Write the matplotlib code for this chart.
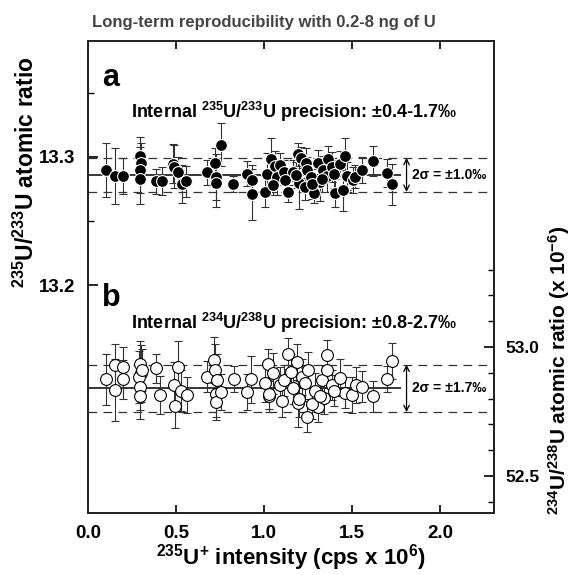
import matplotlib
matplotlib.use("Agg")
import matplotlib.pyplot as plt
from matplotlib.ticker import FixedLocator

plt.rcParams['font.family'] = ['Liberation Sans', 'DejaVu Sans']
plt.rcParams['font.weight'] = 'bold'
plt.rcParams['mathtext.fontset'] = 'custom'
plt.rcParams['mathtext.rm'] = 'Liberation Sans:bold'
plt.rcParams['mathtext.it'] = 'Liberation Sans:bold'
plt.rcParams['mathtext.bf'] = 'Liberation Sans:bold'

# panel a: 235U/233U
a_x = [0.10, 0.153, 0.20, 0.295, 0.30, 0.295, 0.297, 0.385, 0.42, 0.485, 0.49, 0.513, 0.532, 0.557,
       0.678, 0.722, 0.727, 0.73, 0.756, 0.826, 0.905, 0.93, 0.934,
       1.006, 1.015, 1.038, 1.062, 1.072, 1.09, 1.114, 1.138, 1.163, 1.195, 1.201, 1.21, 1.233,
       1.239, 1.246, 1.265, 1.284, 1.309, 1.318, 1.337, 1.356, 1.362, 1.384, 1.403, 1.432, 1.451,
       1.46, 1.47, 1.504, 1.517, 1.555, 1.617, 1.70, 1.729, 1.05, 1.12, 1.18, 1.27, 1.33, 1.40]
a_y = [13.2896, 13.2849, 13.285, 13.3005, 13.2953, 13.2896, 13.2831, 13.281, 13.281, 13.2948, 13.2925,
       13.288, 13.279, 13.281,
       13.288, 13.295, 13.2844, 13.280, 13.3096, 13.279, 13.287, 13.282, 13.271,
       13.273, 13.287, 13.2987, 13.2927, 13.284, 13.2935, 13.288, 13.273, 13.288, 13.302, 13.2797,
       13.2995, 13.2766, 13.2953, 13.290, 13.2844, 13.2719, 13.2953, 13.2805, 13.2896, 13.2849,
       13.2987, 13.2922, 13.2719, 13.2948, 13.274, 13.3005, 13.2849, 13.2818, 13.2844, 13.290,
       13.2969, 13.2875, 13.2786, 13.2780, 13.2820, 13.2860, 13.2790, 13.2830, 13.2870]
a_err = [0.021, 0.022, 0.014, 0.015, 0.016, 0.018, 0.02, 0.010, 0.011, 0.015, 0.017, 0.012, 0.015, 0.012,
         0.010, 0.012, 0.018, 0.019, 0.017, 0.006, 0.010, 0.012, 0.020,
         0.012, 0.016, 0.016, 0.012, 0.014, 0.010, 0.010, 0.008, 0.010, 0.009, 0.020, 0.008, 0.010,
         0.012, 0.010, 0.011, 0.008, 0.010, 0.015, 0.011, 0.012, 0.010, 0.012, 0.011, 0.010, 0.016,
         0.014, 0.011, 0.010, 0.009, 0.010, 0.012, 0.011, 0.016, 0.008, 0.009, 0.010, 0.012, 0.010, 0.011]
a_mean = 13.286
a_2s = 0.0133

# panel b: 234U/238U (x 1e-6)
b_x = [0.10, 0.153, 0.153, 0.20, 0.20, 0.295, 0.30, 0.29, 0.295, 0.297, 0.305, 0.385, 0.409,
       0.489, 0.494, 0.513, 0.527, 0.561,
       0.678, 0.716, 0.722, 0.731, 0.727, 0.727, 0.754, 0.83, 0.902, 0.924,
       1.006, 1.025, 1.03, 1.053, 1.091, 1.114, 1.138, 1.151, 1.167, 1.189, 1.195, 1.214, 1.233,
       1.246, 1.252, 1.29, 1.309, 1.328, 1.341, 1.356, 1.356, 1.384, 1.432, 1.46, 1.498, 1.523,
       1.555, 1.617, 1.70, 1.729, 1.03, 1.10, 1.20, 1.27, 1.32, 1.40]
b_y = [52.875, 52.833, 52.930, 52.921, 52.875, 52.934, 52.898, 52.885, 52.846, 52.811, 52.911, 52.917,
       52.814, 52.853, 52.771, 52.924, 52.831, 52.814,
       52.885, 52.950, 52.911, 52.872, 52.818, 52.788, 52.827, 52.875, 52.827, 52.875,
       52.859, 52.934, 52.810, 52.898, 52.853, 52.872, 52.975, 52.904, 52.840, 52.943, 52.782,
       52.885, 52.859, 52.730, 52.911, 52.831, 52.769, 52.872, 52.801, 52.969, 52.911, 52.853,
       52.882, 52.823, 52.814, 52.853, 52.846, 52.810, 52.875, 52.947, 52.820, 52.790, 52.800,
       52.780, 52.810, 52.830]
b_err = [0.10, 0.12, 0.08, 0.08, 0.075, 0.09, 0.11, 0.10, 0.09, 0.09, 0.08, 0.055, 0.075,
         0.09, 0.085, 0.10, 0.08, 0.07,
         0.06, 0.09, 0.10, 0.10, 0.09, 0.07, 0.07, 0.05, 0.07, 0.09,
         0.07, 0.06, 0.06, 0.08, 0.07, 0.06, 0.06, 0.07, 0.06, 0.07, 0.09, 0.07, 0.06,
         0.06, 0.07, 0.07, 0.06, 0.06, 0.06, 0.06, 0.07, 0.06, 0.07, 0.06, 0.07, 0.07,
         0.06, 0.06, 0.05, 0.07, 0.06, 0.06, 0.07, 0.06, 0.06, 0.06]
b_mean = 52.84
b_2s = 0.092

fig = plt.figure(figsize=(5.74, 5.75), dpi=100)
ax = fig.add_axes([88 / 574, 62 / 575, 406 / 574, 472 / 575])
ax2 = ax.twinx()

ax.set_xlim(0, 2.307)
ax.set_ylim(13.0219, 13.3906)
ax2.set_ylim(52.357, 54.186)

dash = (0, (7, 5))
err_kw = dict(fmt='none', ecolor='#333333', elinewidth=0.8, capsize=3, capthick=0.8)

# panel a
ax.hlines(a_mean, 0, 1.78, color='black', lw=1.1, zorder=1)
ax.axhline(a_mean + a_2s, color='#333333', lw=0.9, ls=dash, zorder=1)
ax.axhline(a_mean - a_2s, color='#333333', lw=0.9, ls=dash, zorder=1)
ax.errorbar(a_x, a_y, yerr=a_err, zorder=2, **err_kw)
ax.plot(a_x, a_y, 'o', ms=8.5, mfc='black', mec='white', mew=0.8, zorder=3)
ax.annotate('', xy=(1.81, a_mean + a_2s), xytext=(1.81, a_mean - a_2s),
            arrowprops=dict(arrowstyle='<->', lw=0.9, color='black', shrinkA=0, shrinkB=0))
ax.text(1.84, a_mean, '2σ = ±1.0‰', fontsize=10, fontweight='bold', va='center', ha='left')
ax.text(0.08, 13.362, 'a', fontsize=22, fontweight='bold', va='center', ha='left')
ax.text(1.17, 13.335, r'Internal $^{235}$U/$^{233}$U precision: ±0.4-1.7‰',
        fontsize=13, fontweight='bold', ha='center', va='center')

# panel b
ax2.hlines(b_mean, 0, 1.78, color='black', lw=1.1, zorder=1)
ax2.axhline(b_mean + b_2s, color='#333333', lw=0.9, ls=dash, zorder=1)
ax2.axhline(b_mean - b_2s, color='#333333', lw=0.9, ls=dash, zorder=1)
ax2.errorbar(b_x, b_y, yerr=b_err, zorder=2, **err_kw)
ax2.plot(b_x, b_y, 'o', ms=8.5, mfc='white', mec='black', mew=0.8, zorder=3)
ax2.annotate('', xy=(1.81, b_mean + b_2s), xytext=(1.81, b_mean - b_2s),
             arrowprops=dict(arrowstyle='<->', lw=0.9, color='black', shrinkA=0, shrinkB=0))
ax2.text(1.84, b_mean, '2σ = ±1.7‰', fontsize=10, fontweight='bold', va='center', ha='left')
ax2.text(0.08, 53.19, 'b', fontsize=22, fontweight='bold', va='center', ha='left')
ax2.text(1.17, 53.095, r'Internal $^{234}$U/$^{238}$U precision: ±0.8-2.7‰',
         fontsize=13, fontweight='bold', ha='center', va='center')

# ticks
ax.set_xticks([0.0, 0.5, 1.0, 1.5, 2.0])
ax.set_xticklabels(['0.0', '0.5', '1.0', '1.5', '2.0'])
ax.set_yticks([13.2, 13.3])
ax.set_yticklabels(['13.2', '13.3'])
ax.yaxis.set_minor_locator(FixedLocator([13.25, 13.35]))
ax.tick_params(axis='x', which='both', direction='in', top=True, length=6, width=1.2,
               labelsize=13.5, pad=9)
ax.tick_params(axis='y', which='major', direction='in', length=7, width=1.2, labelsize=13.5, pad=9)
ax.tick_params(axis='y', which='minor', direction='in', length=4, width=1.0)

ax2.set_yticks([52.5, 53.0])
ax2.set_yticklabels(['52.5', '53.0'])
ax2.yaxis.set_minor_locator(FixedLocator([52.4, 52.6, 52.7, 52.8, 52.9, 53.1, 53.2, 53.3]))
ax2.tick_params(axis='y', which='major', direction='in', length=7, width=1.2, labelsize=12.5, pad=8)
ax2.tick_params(axis='y', which='minor', direction='in', length=4, width=1.0)

for a in (ax, ax2):
    for s in a.spines.values():
        s.set_linewidth(1.3)
        s.set_color('#222222')

ax.set_xlabel(r'$^{235}$U$^{+}$ intensity (cps x 10$^{6}$)', fontsize=16, fontweight='bold',
              labelpad=0)
fig.text(26 / 574, 1 - 172 / 575, r'$^{235}$U/$^{233}$U atomic ratio', rotation=90,
         fontsize=16.5, fontweight='bold', ha='center', va='center')
fig.text(559 / 574, 1 - 370 / 575, r'$^{234}$U/$^{238}$U atomic ratio (x 10$^{-6}$)', rotation=90,
         fontsize=15, fontweight='bold', ha='center', va='center')
fig.text(264 / 574, 1 - 23 / 575, 'Long-term reproducibility with 0.2-8 ng of U', fontsize=12,
         fontweight='bold', color='#444444', ha='center', va='center')

fig.savefig('out.png', dpi=100)
